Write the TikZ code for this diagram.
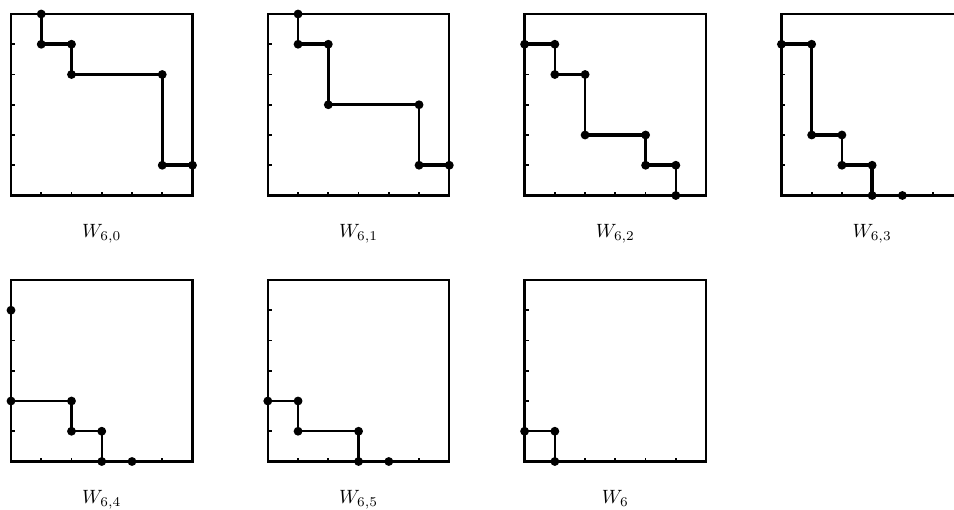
\documentclass[tikz,border=0pt]{standalone}
\tikzset{
  frame/.style={line width=1.2pt},
  tickmark/.style={line width=0.9pt},
  seg/.style={line width=1.3pt},
  thk/.style={line width=2.0pt},
  dot/.style={fill=black},
  lab/.style={anchor=base,font=\normalsize}
}
\newcommand\mypanel[5]{%
  \begin{scope}[shift={(#1pt,#2pt)},x=15.73pt,y=15.73pt]
    #4
    \draw[frame] (0,0) rectangle (6,6);
    \foreach \i in {1,...,5} {
      \draw[tickmark] (\i,0) -- ++(0,0.13);
      \draw[tickmark] (0,\i) -- ++(0.13,0);
    }
    \foreach \p in {#5} {\fill[dot] \p circle (2.3pt);}
    \node[lab] at (3,-1.405) {#3};
  \end{scope}}
\begin{document}
\begin{tikzpicture}
\useasboundingbox (0,0) rectangle (496.08pt,265.2pt);
\clip (0,0) rectangle (496.08pt,265.2pt);
% W_{6,0}
\mypanel{5.72}{163.54}{$W_{6,0}$}{%
  \draw[seg] (1,6) -- (1,5);
  \draw[thk] (1,5) -- (2,5);
  \draw[seg] (2,5) -- (2,4) -- (5,4) -- (5,1);
  \draw[thk] (5,1) -- (6,1);
}{(1,6),(1,5),(2,5),(2,4),(5,4),(5,1),(6,1)}
% W_{6,1}
\mypanel{139.26}{163.54}{$W_{6,1}$}{%
  \draw[seg] (1,6) -- (1,5);
  \draw[thk] (1,5) -- (2,5);
  \draw[seg] (2,5) -- (2,3) -- (5,3) -- (5,1);
  \draw[thk] (5,1) -- (6,1);
}{(1,6),(1,5),(2,5),(2,3),(5,3),(5,1),(6,1)}
% W_{6,2}
\mypanel{272.79}{163.54}{$W_{6,2}$}{%
  \draw[thk] (0,5) -- (1,5);
  \draw[seg] (1,5) -- (1,4) -- (2,4) -- (2,2);
  \draw[thk] (2,2) -- (4,2);
  \draw[seg] (4,2) -- (4,1);
  \draw[thk] (4,1) -- (5,1);
  \draw[seg] (5,1) -- (5,0);
}{(0,5),(1,5),(1,4),(2,4),(2,2),(4,2),(4,1),(5,1),(5,0)}
% W_{6,3}
\mypanel{406.33}{163.54}{$W_{6,3}$}{%
  \draw[thk] (0,5) -- (1,5);
  \draw[seg] (1,5) -- (1,2);
  \draw[thk] (1,2) -- (2,2);
  \draw[seg] (2,2) -- (2,1);
  \draw[thk] (2,1) -- (3,1) -- (3,0);
}{(0,5),(1,5),(1,2),(2,2),(2,1),(3,1),(3,0),(4,0)}
% W_{6,4}
\mypanel{5.72}{25.22}{$W_{6,4}$}{%
  \draw[seg] (0,2) -- (2,2) -- (2,1) -- (3,1) -- (3,0);
}{(0,5),(0,2),(2,2),(2,1),(3,1),(3,0),(4,0)}
% W_{6,5}
\mypanel{139.26}{25.22}{$W_{6,5}$}{%
  \draw[seg] (0,2) -- (1,2) -- (1,1) -- (3,1) -- (3,0);
}{(0,2),(1,2),(1,1),(3,1),(3,0),(4,0)}
% W_6
\mypanel{272.79}{25.22}{$W_{6}$}{%
  \draw[seg] (0,1) -- (1,1) -- (1,0);
}{(0,1),(1,1),(1,0)}
\end{tikzpicture}
\end{document}
